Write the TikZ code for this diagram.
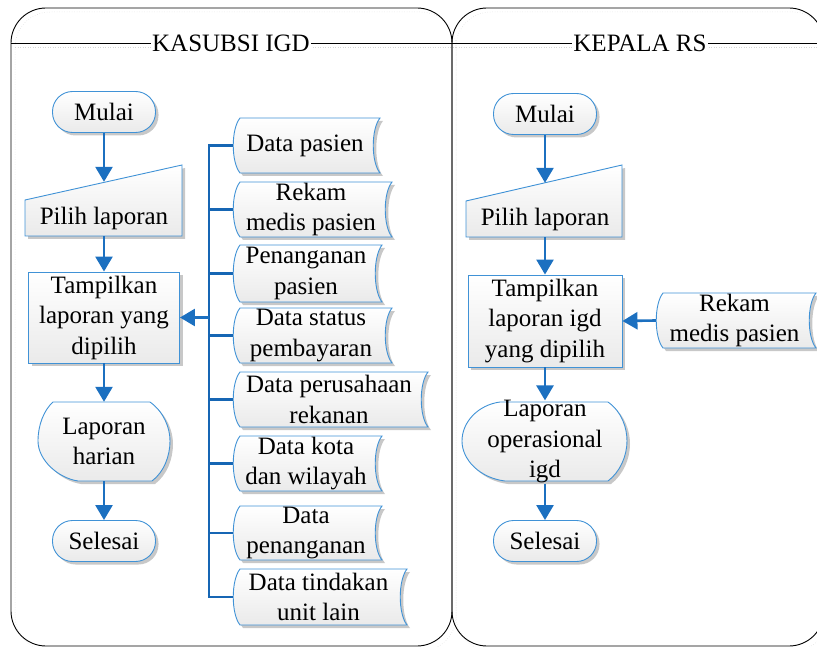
\documentclass[tikz,border=0pt]{standalone}
\usepackage{fontspec}
\setmainfont{Liberation Serif}
\usetikzlibrary{arrows.meta,shadows}

\definecolor{lineblue}{RGB}{64,146,214}
\definecolor{flowblue}{RGB}{28,112,192}
\definecolor{busblue}{RGB}{22,102,180}
\definecolor{fillgray}{RGB}{234,234,234}
\definecolor{shadegray}{RGB}{200,200,200}

\newcommand{\diagfont}{\fontsize{25}{30.5}\selectfont}

% stored-data symbol: #1 = left x, #2 = right x, #3 = top y, #4 = bottom y
\newcommand{\storedata}[4]{%
  \path[shp] (#1,#3) -- (#2,#3)
    .. controls ({#2-9},{#3+(#4-#3)*0.2}) and ({#2-9},{#4-(#4-#3)*0.2}) .. (#2,#4)
    -- (#1,#4)
    .. controls ({#1-9},{#4-(#4-#3)*0.2}) and ({#1-9},{#3+(#4-#3)*0.2}) .. (#1,#3)
    -- cycle;}

\tikzset{
  shp/.style={draw=lineblue, line width=0.9pt, top color=white, bottom color=fillgray,
    drop shadow={shadow xshift=3pt, shadow yshift=-3pt, fill=shadegray, opacity=1}},
  txt/.style={inner sep=0pt, align=center, font=\diagfont, text=black},
  term/.style={shp, txt, rectangle, rounded corners=20pt, minimum width=103pt, minimum height=41pt},
  procbox/.style={shp, txt, rectangle},
  anchorbox/.style={txt, draw=none},
  flow/.style={draw=flowblue, line width=2.6pt, -{Triangle[length=15pt,width=17pt]}},
  bus/.style={draw=busblue, line width=2.6pt, line join=miter},
  lane/.style={draw=black, line width=0.9pt, rounded corners=35pt},
  laneshade/.style={draw=black!16, dotted, line width=0.5pt, rounded corners=35pt},
  lanetitle/.style={fill=white, inner sep=1.5pt, font=\diagfont},
}

\begin{document}
\begin{tikzpicture}[x=1pt,y=-1pt]
\useasboundingbox (0,0) rectangle (817,647);
\clip (0,0) rectangle (817,647);

% ---- swimlanes ----
\draw[laneshade] (15,12) rectangle (456,651);
\draw[laneshade] (15,47) -- (456,47);
\draw[laneshade] (456,12) rectangle (828,651);
\draw[laneshade] (456,47) -- (828,47);
\draw[lane] (11,8) rectangle (452,646);
\draw[lane] (452,8) rectangle (824,646);
\draw[black, line width=0.9pt] (11,43) -- (824,43);
\node[lanetitle] (lane1) at (231,43) {KASUBSI IGD};
\node[lanetitle] (lane2) at (640,43) {KEPALA RS};

% ---- KASUBSI IGD ----
\node[term] (m1) at (104,112) {Mulai};

\path[shp] (25,200) -- (182,165) -- (182,236) -- (25,236) -- cycle;
\node[anchorbox, minimum width=157pt, minimum height=54pt] (p1) at (104,209) {};
\node[txt] (p1t) at (104,218.5) {Pilih laporan};

\node[procbox, minimum width=151pt, minimum height=91pt] (s1) at (104,317.5)
  {Tampilkan\\laporan yang\\dipilih};

\path[shp] (53,402) -- (150,402) .. controls (164,412) and (170,428) .. (170,441)
  .. controls (170,456) and (164,472) .. (152,481) -- (78,481)
  .. controls (58,478) and (38,460) .. (38,441)
  .. controls (38,425) and (44,410) .. (53,402) -- cycle;
\node[anchorbox, minimum width=132pt, minimum height=79pt] (l1) at (104,441.5)
  {Laporan\\harian};

\node[term] (e1) at (104,541) {Selesai};

% data stores feeding the report
\storedata{240}{380}{118}{173}
\storedata{240}{392}{182}{237}
\storedata{240}{382}{245}{302}
\storedata{240}{392}{308}{363}
\storedata{240}{428}{372}{427}
\storedata{240}{382}{436}{491}
\storedata{240}{382}{506}{560}
\storedata{240}{407}{569}{625}
\node[anchorbox, minimum width=144pt, minimum height=55pt] (d1) at (305,145.5) {Data pasien};
\node[anchorbox, minimum width=156pt, minimum height=55pt] (d2) at (311,209.5) {Rekam\\medis pasien};
\node[anchorbox, minimum width=146pt, minimum height=57pt] (d3) at (306,273.5) {Penanganan\\pasien};
\node[anchorbox, minimum width=156pt, minimum height=55pt] (d4) at (311,335.5) {Data status\\pembayaran};
\node[anchorbox, minimum width=192pt, minimum height=55pt] (d5) at (329,399.5) {Data perusahaan\\rekanan};
\node[anchorbox, minimum width=146pt, minimum height=55pt] (d6) at (306,463.5) {Data kota\\dan wilayah};
\node[anchorbox, minimum width=146pt, minimum height=54pt] (d7) at (306,533) {Data\\penanganan};
\node[anchorbox, minimum width=171pt, minimum height=56pt] (d8) at (318.5,597) {Data tindakan\\unit lain};

\coordinate (bus) at (209,300);
\draw[bus] (d1.west) -- (bus |- d1.west) -- (bus |- d8.west) -- (d8.west);
\foreach \d in {d2,d3,d4,d5,d6,d7}
  \draw[bus] (bus |- \d.west) -- (\d.west);
\draw[flow] (bus |- s1.east) -- (s1.east);

\draw[flow] (m1) -- (p1);
\draw[flow] (p1) -- (s1);
\draw[flow] (s1) -- (l1);
\draw[flow] (l1) -- (e1);

% ---- KEPALA RS ----
\node[term] (m2) at (545,114) {Mulai};

\path[shp] (466,201) -- (622,165) -- (622,237) -- (466,237) -- cycle;
\node[anchorbox, minimum width=154pt, minimum height=54pt] (p2) at (545,210) {};
\node[txt] (p2t) at (545,219) {Pilih laporan};

\node[procbox, minimum width=154pt, minimum height=92pt] (s2) at (545,321)
  {Tampilkan\\laporan igd\\yang dipilih};

\storedata{663}{816}{293}{348}
\node[anchorbox, minimum width=157pt, minimum height=55pt] (d9) at (734.5,320.5) {Rekam\\medis pasien};
\draw[flow] (d9.west) -- (s2.east);

\path[shp] (500,402) -- (608,402) .. controls (622,412) and (627,428) .. (627,441)
  .. controls (627,456) and (620,472) .. (608,481) -- (505,481)
  .. controls (480,478) and (462,460) .. (462,441)
  .. controls (462,422) and (478,405) .. (500,402) -- cycle;
\node[anchorbox, minimum width=165pt, minimum height=79pt] (l2) at (545,442)
  {Laporan\\operasional\\igd};

\node[term] (e2) at (545,541) {Selesai};

\draw[flow] (m2) -- (p2);
\draw[flow] (p2) -- (s2);
\draw[flow] (s2) -- (l2);
\draw[flow] (l2) -- (e2);
\end{tikzpicture}
\end{document}
